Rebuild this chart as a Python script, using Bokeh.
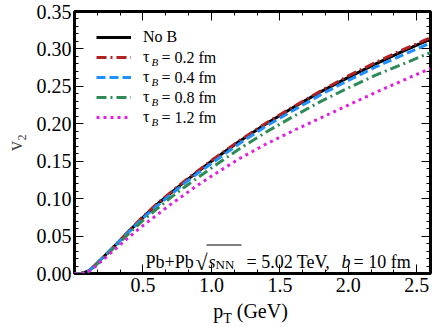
from bokeh.plotting import figure
from bokeh.layouts import column
from bokeh.models import (LinearAxis, FixedTicker, Legend, LegendItem, Label,
                          Range1d, NumeralTickFormatter, BoxAnnotation, Div)
from bokeh.embed import file_html
from bokeh.resources import INLINE

# ---- data ----
pt = [0.0, 0.05, 0.1, 0.15, 0.2, 0.3, 0.4, 0.5, 0.6, 0.7, 0.8, 0.9, 1.0,
      1.2, 1.4, 1.6, 1.8, 2.0, 2.2, 2.4, 2.6]
v2_noB = [0.0, 0.0, 0.003, 0.011, 0.020, 0.038, 0.057, 0.075, 0.092, 0.107, 0.122,
          0.136, 0.150, 0.176, 0.200, 0.222, 0.243, 0.262, 0.280, 0.297, 0.313]
v2_tau02 = [0.0, 0.0, 0.003, 0.011, 0.020, 0.038, 0.057, 0.076, 0.093, 0.108, 0.123,
            0.137, 0.151, 0.177, 0.201, 0.223, 0.244, 0.264, 0.282, 0.299, 0.315]
v2_tau04 = [0.0, 0.0, 0.003, 0.011, 0.020, 0.038, 0.056, 0.074, 0.090, 0.105, 0.120,
            0.134, 0.147, 0.173, 0.197, 0.218, 0.239, 0.258, 0.276, 0.292, 0.308]
v2_tau08 = [0.0, 0.0, 0.003, 0.010, 0.019, 0.036, 0.054, 0.071, 0.086, 0.101, 0.115,
            0.128, 0.141, 0.166, 0.189, 0.210, 0.230, 0.248, 0.265, 0.280, 0.295]
v2_tau12 = [0.0, 0.0, 0.002, 0.009, 0.017, 0.033, 0.049, 0.064, 0.078, 0.092, 0.105,
            0.118, 0.130, 0.153, 0.173, 0.191, 0.208, 0.225, 0.242, 0.258, 0.274]

tau_labels = ["0.2", "0.4", "0.8", "1.2"]
x_major = [0.5, 1.0, 1.5, 2.0, 2.5]
y_major = [0.0, 0.05, 0.10, 0.15, 0.20, 0.25, 0.30, 0.35]

FONT = "Liberation Serif"

p = figure(width=434, height=300, output_backend="svg", toolbar_location=None,
           x_range=Range1d(0, 2.6), y_range=Range1d(0, 0.35),
           min_border_left=71, min_border_right=4, min_border_top=11,
           min_border_bottom=27)
p.xgrid.visible = False
p.ygrid.visible = False
p.outline_line_color = "black"
p.outline_line_width = 3
p.outline_line_alpha = 1.0
p.background_fill_color = "white"
p.border_fill_color = "white"

x_minor = [i / 6 for i in range(1, 16) if i % 3 != 0]
y_minor = [i / 100 for i in range(1, 35) if i % 5 != 0]

xt = FixedTicker(ticks=x_major, minor_ticks=x_minor)
yt = FixedTicker(ticks=y_major, minor_ticks=y_minor)

top = LinearAxis()
right = LinearAxis()
p.add_layout(top, "above")
p.add_layout(right, "right")

for ax in p.xaxis:
    ax.ticker = xt
for ax in p.yaxis:
    ax.ticker = yt

for ax in [p.below[0], p.left[0], top, right]:
    ax.axis_line_color = None
    ax.major_tick_in = 9
    ax.major_tick_out = 0
    ax.minor_tick_in = 4
    ax.minor_tick_out = 0
    ax.major_tick_line_color = "black"
    ax.minor_tick_line_color = "black"
    ax.major_tick_line_width = 1
    ax.minor_tick_line_width = 1
    ax.major_label_text_font = FONT
    ax.major_label_text_font_size = "20px"
    ax.major_label_text_color = "black"

p.below[0].formatter = NumeralTickFormatter(format="0.0")
p.left[0].formatter = NumeralTickFormatter(format="0.00")
p.below[0].major_label_standoff = 4
p.left[0].major_label_standoff = 3
p.left[0].axis_label = "v₂"
p.left[0].axis_label_text_font = FONT
p.left[0].axis_label_text_font_size = "20px"
p.left[0].axis_label_text_font_style = "normal"
p.left[0].axis_label_standoff = 8
for ax in [top, right]:
    ax.major_label_text_font_size = "0px"
    ax.major_label_text_color = None
    ax.major_label_standoff = 0

# ---- curves ----
r0 = p.line(pt, v2_noB, line_color="black", line_width=3)
r1 = p.line(pt, v2_tau02, line_color="#b22222", line_width=3, line_dash="10 4 2 4")
r2 = p.line(pt, v2_tau04, line_color="#1e90ff", line_width=3, line_dash="9 4")
r3 = p.line(pt, v2_tau08, line_color="#2e8b57", line_width=3, line_dash="10 4 2 4")
r4 = p.line(pt, v2_tau12, line_color="#e020e0", line_width=3, line_dash="3 4")

legend = Legend(items=[LegendItem(label="No B", renderers=[r0])] +
                      [LegendItem(label="τ", renderers=[r]) for r in [r1, r2, r3, r4]],
                location=(22, 146), glyph_width=35, glyph_height=20,
                label_height=20, spacing=0, padding=0, margin=0,
                label_standoff=12, border_line_color=None,
                background_fill_alpha=0, label_text_font=FONT,
                label_text_font_size="16px", label_text_color="black")
p.add_layout(legend)


def lab(x, y, text, size="16px", style="normal", baseline="middle"):
    p.add_layout(Label(x=x, y=y, x_units="screen", y_units="screen", text=text,
                       text_font=FONT, text_font_size=size, text_font_style=style,
                       text_baseline=baseline, text_align="left",
                       text_color="black"))


# legend text pieces after the tau
row_y = [216, 196, 176, 156]
for ty, tl in zip(row_y, tau_labels):
    lab(77, ty - 4, "B", size="11px", style="italic")
    lab(87, ty, "= " + tl + " fm")

# system annotation
base = 12
lab(71, base, "Pb+Pb", size="18px", baseline="alphabetic")
lab(121, base - 1, "√", size="22px", baseline="alphabetic")
lab(134, base, "s", size="18px", style="italic", baseline="alphabetic")
lab(141, base - 3, "NN", size="13px", baseline="alphabetic")
lab(172, base, "= 5.02 TeV,", size="18px", baseline="alphabetic")
lab(267, base, "b", size="18px", style="italic", baseline="alphabetic")
lab(279, base, "= 10 fm", size="18px", baseline="alphabetic")
p.add_layout(BoxAnnotation(left=132, right=167, top=29, bottom=28,
                           left_units="screen", right_units="screen",
                           top_units="screen", bottom_units="screen",
                           fill_color="black", fill_alpha=1, line_color=None))

xlabel = Div(text="p<sub style='font-size:14px'>T</sub> (GeV)", width=359, height=27,
             margin=(0, 0, 0, 71),
             styles={"text-align": "center", "font-family": FONT, "font-size": "20px",
                     "line-height": "22px", "color": "black"})

layout = column(p, xlabel, spacing=0)
open("out.html", "w").write(file_html(layout, INLINE))
